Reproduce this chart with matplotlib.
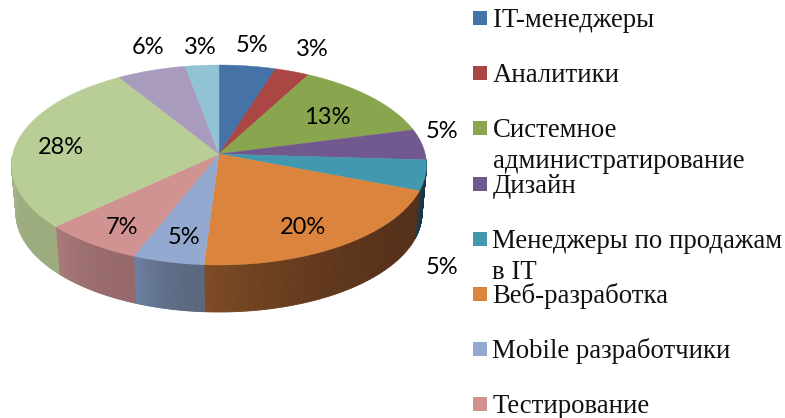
import numpy as np
import matplotlib
matplotlib.use('Agg')
import matplotlib.pyplot as plt
from matplotlib.colors import to_rgb

# shares as drawn in the picture (perspective moves them a little from the printed percents)
shares = [4.4, 2.7, 12.2, 4.9, 5.0, 22.0, 5.6, 7.7, 27.6, 5.4, 2.6]
percentLabels = ['5%', '3%', '13%', '5%', '5%', '20%', '5%', '7%', '28%', '6%', '3%']
categories = ['IT-менеджеры', 'Аналитики', 'Системное\nадминистратирование', 'Дизайн',
	'Менеджеры по продажам\nв IT', 'Веб-разработка', 'Mobile разработчики', 'Тестирование']

topColors = ['#4572a7', '#aa4643', '#89a54e', '#71588f', '#4198af', '#db843d',
	'#93a9cf', '#d19392', '#b9cd96', '#a99bbd', '#91c3d5']
# wall colour at the start and end of each slice, going clockwise
wallColors = {4: ('#16323b', '#1d3f4a'), 5: ('#55301a', '#7d4b24'), 6: ('#5a677f', '#6c80a0'),
	7: ('#96686a', '#a87a78'), 8: ('#9bab7d', '#a5b488')}
labelPos = [(252, 45), (312, 50), (327, 117), (442, 131), (442, 267), (303, 228),
	(184, 238), (122, 227), (61, 147), (148, 48), (200, 47)]

apexX, apexY = 219, 154
topCy, topRx, topRy = 165, 207.5, 100
botCy, botRx, botRy = 213, 203, 99


def rim(theta, cy, rx, ry):
	return apexX + rx * np.sin(theta), cy - ry * np.cos(theta)


fig = plt.figure(figsize=(7.85, 4.18), dpi=100)
ax = fig.add_axes([0, 0, 1, 1])
ax.set_xlim(0, 785)
ax.set_ylim(418, 0)
ax.axis('off')

edges = np.radians(np.cumsum([0] + shares) / sum(shares) * 360)

# side wall first, as thin strips so it can shade along the rim
for i, (c0, c1) in wallColors.items():
	start = max(edges[i], np.radians(85))
	end = min(edges[i + 1], np.radians(275))
	steps = np.linspace(start, end, 60)
	for k in range(len(steps) - 1):
		t = steps[k:k + 2]
		mix = (k / 58) ** 2
		col = (1 - mix) * np.array(to_rgb(c0)) + mix * np.array(to_rgb(c1))
		xTop, yTop = rim(t, topCy, topRx, topRy)
		xBot, yBot = rim(t, botCy, botRx, botRy)
		ax.fill(np.r_[xTop, xBot[::-1]], np.r_[yTop, yBot[::-1]], color=col, lw=0.6, zorder=2)

for i, col in enumerate(topColors):
	t = np.linspace(edges[i], edges[i + 1], 60)
	x, y = rim(t, topCy, topRx, topRy)
	ax.fill(np.r_[apexX, x], np.r_[apexY, y], color=col, lw=0.3, zorder=3)

for text, (x, y) in zip(percentLabels, labelPos):
	ax.text(x, y, text, family='Lato', fontsize=17, color='black', ha='center', va='center', zorder=4)

for i, (name, col) in enumerate(zip(categories, topColors)):
	top = 11 + i * 55.2
	ax.fill([473, 487, 487, 473], [top, top, top + 14, top + 14], color=col, lw=0)
	# wrapped names go down from the swatch, one text per line
	for n, line in enumerate(name.split('\n')):
		ax.text(492.5, top + 16 + n * 31, line, family='Liberation Serif', fontsize=19.3,
			color='#111111', va='baseline', clip_on=False)

fig.savefig('out.png', dpi=100)
